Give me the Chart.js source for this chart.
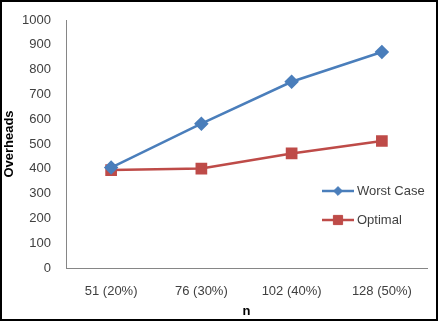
<!DOCTYPE html>
<html>
<head>
<meta charset="utf-8">
<script src="https://cdn.jsdelivr.net/npm/chart.js@4/dist/chart.umd.min.js"></script>
<style>
html,body{margin:0;padding:0;background:#fff;}
#wrap{width:438px;height:321px;box-sizing:border-box;border:2px solid #000;position:relative;}
canvas{display:block;}
</style>
</head>
<body>
<div id="wrap"><canvas id="c" width="434" height="317"></canvas></div>
<script>
const categories = ["51 (20%)", "76 (30%)", "102 (40%)", "128 (50%)"];
const worstCase = [405, 582, 751, 871];
const optimal = [395, 401, 462, 512];
const seriesNames = ["Worst Case", "Optimal"];
const yTitle = "Overheads";
const xTitle = "n";

const FONT = "'Liberation Sans', Arial, sans-serif";

const legendPlugin = {
  id: 'insideLegend',
  afterDraw(chart) {
    const ctx = chart.ctx;
    const area = chart.chartArea;
    const x0 = area.left + 256;
    const ys = [area.top + 171, area.top + 200];
    chart.data.datasets.forEach((ds, i) => {
      const y = ys[i];
      ctx.save();
      ctx.strokeStyle = ds.borderColor;
      ctx.lineWidth = 2.5;
      ctx.beginPath();
      ctx.moveTo(x0, y);
      ctx.lineTo(x0 + 32, y);
      ctx.stroke();
      ctx.fillStyle = ds.backgroundColor;
      ctx.strokeStyle = ds.borderColor;
      ctx.lineWidth = 1;
      Chart.helpers.drawPoint(ctx, {pointStyle: ds.pointStyle, radius: ds.pointRadius * (i === 0 ? 0.8 : 1), borderWidth: 1}, x0 + 16, y);
      ctx.fillStyle = '#404040';
      ctx.font = "13px " + FONT;
      ctx.textBaseline = 'middle';
      ctx.textAlign = 'left';
      ctx.fillText(ds.label, x0 + 35, y);
      ctx.restore();
    });
  }
};

new Chart(document.getElementById('c'), {
  type: 'line',
  data: {
    labels: categories,
    datasets: [
      {label: seriesNames[0], data: worstCase, borderColor: '#4A7EBB', backgroundColor: '#4A7EBB',
       borderWidth: 2.5, pointStyle: 'rectRot', pointRadius: 5.5, pointHoverRadius: 5.5, tension: 0},
      {label: seriesNames[1], data: optimal, borderColor: '#BE4B48', backgroundColor: '#BE4B48',
       borderWidth: 2.5, pointStyle: 'rect', pointRadius: 6.5, pointHoverRadius: 6.5, tension: 0}
    ]
  },
  options: {
    responsive: false,
    animation: false,
    devicePixelRatio: 1,
    layout: {padding: {top: 18, right: 4, left: 0, bottom: 0}},
    plugins: {legend: {display: false}, tooltip: {enabled: false}},
    scales: {
      x: {
        offset: true,
        grid: {display: false},
        border: {display: true, color: '#868686', width: 1},
        ticks: {color: '#404040', font: {family: FONT, size: 13}, padding: 8, maxRotation: 0},
        title: {display: true, text: xTitle, color: '#000', font: {family: FONT, size: 13, weight: 'bold'}, padding: {top: 6, bottom: 0}},
        afterFit(s) { s.height = 51; }
      },
      y: {
        min: 0, max: 1000,
        grid: {display: false},
        border: {display: true, color: '#868686', width: 1},
        ticks: {stepSize: 100, color: '#404040', font: {family: FONT, size: 13}, padding: 7,
                callback: (v) => String(v)},
        title: {display: true, text: yTitle, color: '#000', font: {family: FONT, size: 13, weight: 'bold'}, padding: {top: 0, bottom: 0}},
        afterFit(s) { s.width = 64; }
      }
    }
  },
  plugins: [legendPlugin]
});
</script>
</body>
</html>
